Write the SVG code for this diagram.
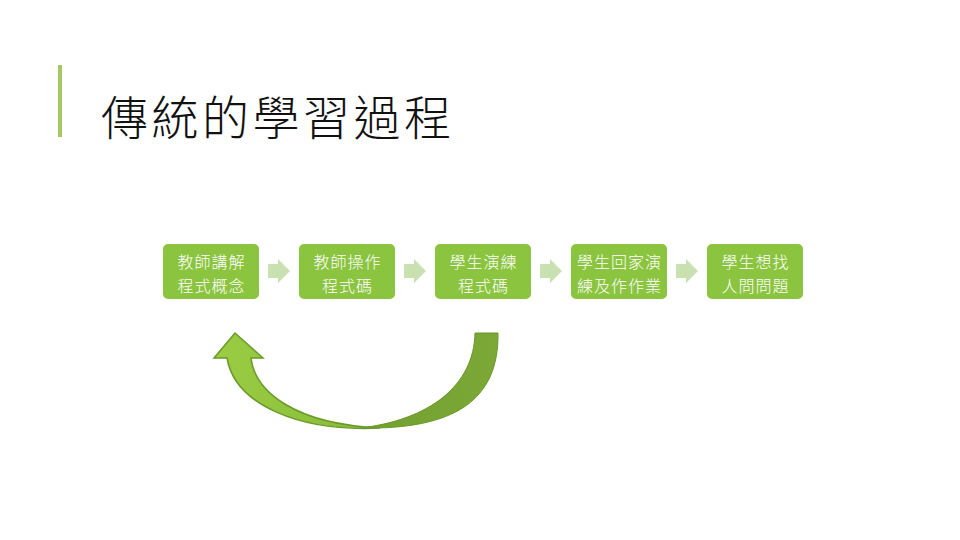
<svg xmlns="http://www.w3.org/2000/svg" width="960" height="540" viewBox="0 0 960 540">
<defs>
<style>
.box{fill:#8BC43F;}
.bt{font-family:"Noto Sans CJK TC","Noto Sans CJK SC",sans-serif;font-size:16px;font-weight:300;fill:#ffffff;text-anchor:middle;letter-spacing:1px;}
.sa{fill:#C9E1B1;}
.title{font-family:"Noto Sans CJK TC","Noto Sans CJK SC",sans-serif;font-size:47px;font-weight:300;fill:#111111;letter-spacing:3.5px;}
</style>
<linearGradient id="gl" x1="0" y1="0" x2="1" y2="0">
<stop offset="0" stop-color="#9ACD43"/>
<stop offset="1" stop-color="#86BA36"/>
</linearGradient>
<linearGradient id="gd" x1="0" y1="0" x2="1" y2="0">
<stop offset="0" stop-color="#72A02E"/>
<stop offset="1" stop-color="#7BA836"/>
</linearGradient>
</defs>
<rect width="960" height="540" fill="#ffffff"/>
<g id="title">
<rect x="58" y="65" width="4" height="72" fill="#A3C864"/>
<text class="title" x="101" y="135">傳統的學習過程</text>
</g>
<g id="n1">
<rect class="box" x="163" y="244" width="96" height="55" rx="5"/>
<text class="bt" x="211.5" y="268">教師講解</text>
<text class="bt" x="211.5" y="292">程式概念</text>
</g>
<g id="n2">
<rect class="box" x="299" y="244" width="96" height="55" rx="5"/>
<text class="bt" x="347.5" y="268">教師操作</text>
<text class="bt" x="347.5" y="292">程式碼</text>
</g>
<g id="n3">
<rect class="box" x="435" y="244" width="96" height="55" rx="5"/>
<text class="bt" x="483.5" y="268">學生演練</text>
<text class="bt" x="483.5" y="292">程式碼</text>
</g>
<g id="n4">
<rect class="box" x="571" y="244" width="96" height="55" rx="5"/>
<text class="bt" x="619.5" y="268">學生回家演</text>
<text class="bt" x="619.5" y="292">練及作作業</text>
</g>
<g id="n5">
<rect class="box" x="707" y="244" width="96" height="55" rx="5"/>
<text class="bt" x="755.5" y="268">學生想找</text>
<text class="bt" x="755.5" y="292">人問問題</text>
</g>
<g id="connectors">
<path class="sa" d="M268 264 H278 V259 L290 271 L278 283 V278 H268 Z"/>
<path class="sa" d="M404 264 H414 V259 L426 271 L414 283 V278 H404 Z"/>
<path class="sa" d="M540 264 H550 V259 L562 271 L550 283 V278 H540 Z"/>
<path class="sa" d="M676 264 H686 V259 L698 271 L686 283 V278 H676 Z"/>
<path fill="url(#gd)" stroke="#6A962A" stroke-width="1" d="M475 333 L498 333 C499 400 455 430 360 428 C430 420 474 385 475 333 Z"/>
<path fill="url(#gl)" stroke="#6A9A2A" stroke-width="1.5" stroke-linejoin="miter" d="M235 333 L263 358 L251 358 C255 392 295 424 380 428 C300 432 235 405 227 358 L214 358 Z"/>
</g>
</svg>
